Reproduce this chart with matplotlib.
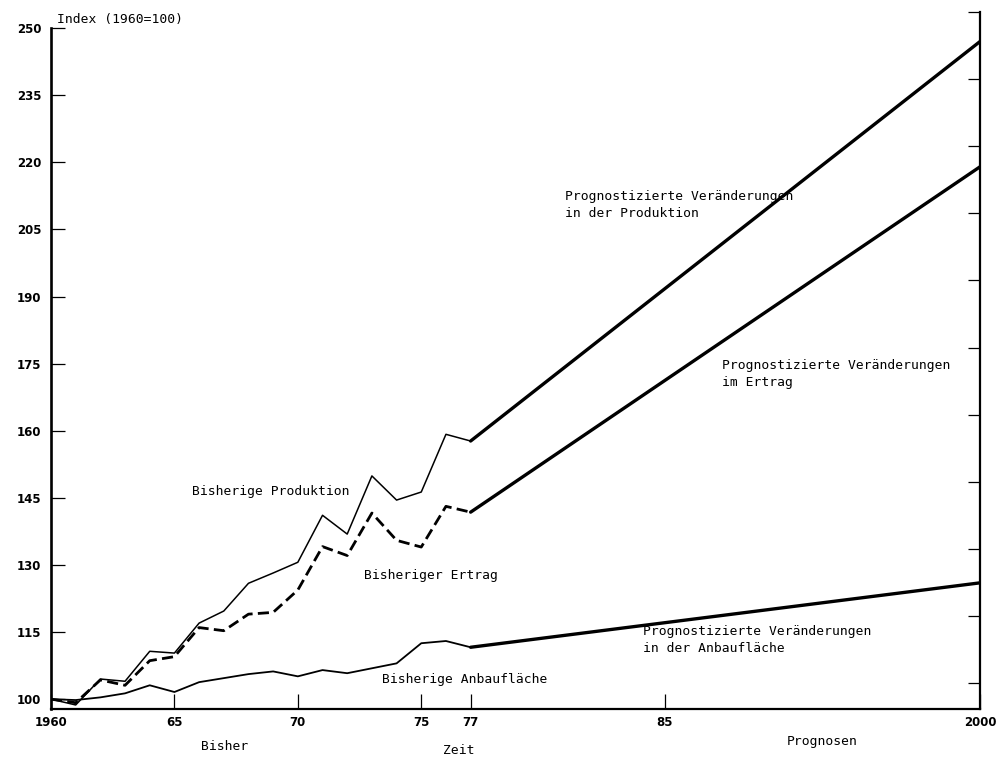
import matplotlib.pyplot as plt
import numpy as np

# historical index values (1960 = 100)
years = list(range(1960, 1978))
produktion = [100.0, 98.7, 104.5, 104.0, 110.7, 110.3, 117.0, 119.7, 125.9,
              128.2, 130.6, 141.1, 136.9, 149.9, 144.5, 146.3, 159.2, 157.7]
ertrag = [100.0, 99.2, 104.3, 103.1, 108.6, 109.5, 116.0, 115.3, 119.0,
          119.4, 124.4, 134.1, 132.1, 141.6, 135.5, 134.0, 143.1, 141.8]
anbau = [100.0, 99.8, 100.4, 101.3, 103.1, 101.6, 103.8, 104.7, 105.6,
         106.2, 105.1, 106.5, 105.8, 106.9, 108.0, 112.5, 113.0, 111.6]

# projections 1977 -> 2000
prog_years = [1977, 2000]
prog_produktion = [157.7, 247.0]
prog_ertrag = [141.8, 219.0]
prog_anbau = [111.6, 126.0]

xtick_years = [1960, 1965, 1970, 1975, 1977, 1985, 2000]
xtick_labels = ['1960', '65', '70', '75', '77', '85', '2000']
ytick_values = list(range(100, 251, 15))

# time axis is stretched piecewise (history drawn wider than the forecast)
knot_years = [1960, 1977, 1985, 2000]
knot_pos = [0.0, 17.3, 25.3, 38.3]


def fwd(x):
    return np.interp(x, knot_years, knot_pos)


def inv(x):
    return np.interp(x, knot_pos, knot_years)


mono = 'DejaVu Sans Mono'
W, H = 998, 759

fig = plt.figure(figsize=(W / 100, H / 100), dpi=100)
ax = fig.add_axes([51 / W, 1 - 709 / H, 929 / W, 697 / H])
ax.set_xscale('function', functions=(fwd, inv))
ax.set_xlim(1960, 2000)
ax.set_ylim(97.8, 253.6)

ax.plot(years, produktion, color='black', lw=1.1)
ax.plot(years, ertrag, color='black', lw=2.0, linestyle=(0, (4.0, 1.9)))
ax.plot(years, anbau, color='black', lw=1.3)
ax.plot(prog_years, prog_produktion, color='black', lw=2.4, solid_capstyle='round')
ax.plot(prog_years, prog_ertrag, color='black', lw=2.4, solid_capstyle='round')
ax.plot(prog_years, prog_anbau, color='black', lw=2.4, solid_capstyle='round')

# frame: no top line, left axis stops at 250
ax.spines['top'].set_visible(False)
ax.spines['right'].set_visible(False)
ax.spines['left'].set_bounds(97.8, 250)
ax.spines['left'].set_linewidth(1.9)
ax.spines['bottom'].set_linewidth(1.6)

ax.set_xticks(xtick_years, xtick_labels)
ax.set_yticks(ytick_values, [str(v) for v in ytick_values])
ax.xaxis.set_minor_locator(plt.NullLocator())
ax.tick_params(axis='y', direction='in', length=10, width=0.9, pad=7)
ax.tick_params(axis='x', direction='in', length=11, width=0.9, pad=5)
for lab in ax.get_xticklabels() + ax.get_yticklabels():
    lab.set_fontweight('bold')
    lab.set_fontsize(8.5)

# right-hand frame with its own tick marks
ax2 = ax.twinx()
ax2.set_ylim(94.2, 250.0)
ax2.set_yticks(ytick_values)
ax2.tick_params(axis='y', direction='in', length=9, width=0.9, labelright=False)
for side in ['top', 'left', 'bottom']:
    ax2.spines[side].set_visible(False)
ax2.spines['right'].set_linewidth(1.6)


def label(x, y, s):
    fig.text(x / W, 1 - y / H, s, family=mono, fontsize=9.4,
             ha='left', va='center', linespacing=1.35)


label(57, 20, 'Index (1960=100)')
label(565, 205, 'Prognostizierte Veränderungen\nin der Produktion')
label(722, 374, 'Prognostizierte Veränderungen\nim Ertrag')
label(192, 492, 'Bisherige Produktion')
label(364, 576, 'Bisheriger Ertrag')
label(643, 640, 'Prognostizierte Veränderungen\nin der Anbaufläche')
label(382, 680, 'Bisherige Anbaufläche')
label(201, 746, 'Bisher')
label(443, 750, 'Zeit')
label(787, 741, 'Prognosen')

fig.savefig('out.png', dpi=100)
